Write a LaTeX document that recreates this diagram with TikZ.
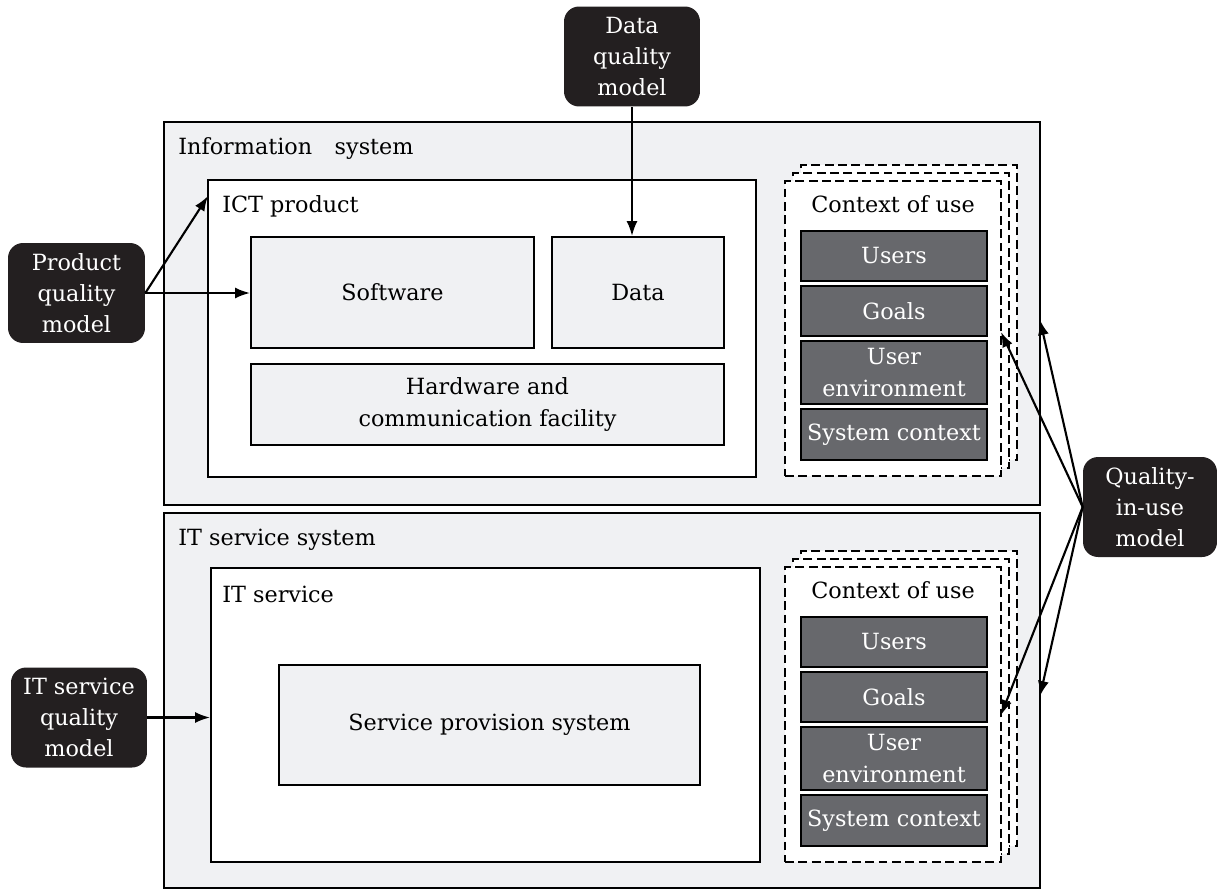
\documentclass[tikz,border=0pt]{standalone}
\usepackage{fontspec}
\setmainfont{DejaVu Serif}
\usetikzlibrary{arrows.meta}
\definecolor{panel}{HTML}{F0F1F3}
\definecolor{darkcell}{HTML}{67686C}
\definecolor{modelbg}{HTML}{231F20}

\begin{document}
\begin{tikzpicture}[x=0.02cm, y=-0.02cm,
  font=\fontsize{12.7}{17.8}\selectfont,
  system/.style = {draw, line width=1.1pt, fill=panel},
  part/.style = {draw, line width=1.1pt, fill=white},
  unit/.style = {draw, line width=1.1pt, fill=panel, align=center},
  ctx/.style = {draw, dash pattern=on 5pt off 2.6pt, line width=1.4pt, fill=white, minimum width=4.32cm, minimum height=5.9cm},
  cell/.style = {draw, line width=0.9pt, fill=darkcell, text=white, minimum width=3.72cm, align=center, inner sep=0pt},
  model/.style = {rounded corners=0.3cm, fill=modelbg, text=white, align=center, minimum width=2.72cm, minimum height=2cm, inner sep=0pt},
  lbl/.style = {anchor=west, inner sep=0pt},
  link/.style = {line width=1.2pt, -{Latex[length=3mm, width=2.2mm]}}]
\useasboundingbox (0,0) rectangle (1217,890);

% information system
\node[system, minimum width=17.52cm, minimum height=7.66cm] (infosys) at (602,313.5) {};
\node[lbl] (infolbl) at (178,148) {Information\hspace{0.45cm}system};
\node[part, minimum width=10.96cm, minimum height=5.94cm] (ictprod) at (482,328.5) {};
\node[lbl] (ictlbl) at (222,206) {ICT product};
\node[unit, minimum width=5.66cm, minimum height=2.22cm] (software) at (392.5,292.5) {Software};
\node[unit, minimum width=3.44cm, minimum height=2.22cm] (data) at (638,292.5) {Data};
\node[unit, minimum width=9.46cm, minimum height=1.62cm] (hardware) at (487.5,404.5) {Hardware and\\communication facility};

% context of use (top)
\node[ctx] (ctxa3) at (909,312.5) {};
\node[ctx] (ctxa2) at (901,320.5) {};
\node[ctx] (ctxa) at (893,328.5) {};
\node (ctxalbl) at (893,204) {Context of use};
\node[cell, minimum height=1cm] (usersa) at (894,256) {Users};
\node[cell, minimum height=1cm] (goalsa) at (894,311) {Goals};
\node[cell, minimum height=1.26cm] (enva) at (894,372.5) {User\\environment};
\node[cell, minimum height=1.02cm] (sysa) at (894,434.5) {System context};

% IT service system
\node[system, minimum width=17.52cm, minimum height=7.5cm] (itsys) at (602,700.5) {};
\node[lbl] (itsyslbl) at (178,540) {IT service system};
\node[part, minimum width=10.98cm, minimum height=5.88cm] (itserv) at (485.5,715) {};
\node[lbl] (itservlbl) at (222,594) {IT service};
\node[unit, minimum width=8.42cm, minimum height=2.4cm] (sps) at (489.5,725) {Service provision system};

% context of use (bottom)
\node[ctx] (ctxb3) at (909,698.5) {};
\node[ctx] (ctxb2) at (901,706.5) {};
\node[ctx] (ctxb) at (893,714.5) {};
\node (ctxblbl) at (893,590) {Context of use};
\node[cell, minimum height=1cm] (usersb) at (894,642) {Users};
\node[cell, minimum height=1cm] (goalsb) at (894,697) {Goals};
\node[cell, minimum height=1.26cm] (envb) at (894,758.5) {User\\environment};
\node[cell, minimum height=1.02cm] (sysb) at (894,820.5) {System context};

% quality models
\node[model] (dqm) at (632,56.5) {Data\\quality\\model};
\node[model, minimum width=2.74cm] (pqm) at (76.5,293) {Product\\quality\\model};
\node[model] (itsqm) at (79,717.5) {IT service\\quality\\model};
\node[model, minimum width=2.68cm] (qiu) at (1150,507) {Quality-\\in-use\\model};

\coordinate (ictin) at (208,196);
\coordinate (infoin) at (1040,320);
\coordinate (ctxain) at (1001,332);
\coordinate (itsysin) at (1040,696);
\coordinate (ctxbin) at (1001,715);

\draw[link] (dqm.south) -- (dqm.south |- data.north);
\draw[link] (pqm.east) -- (ictin);
\draw[link] (pqm.east) -- (pqm.east -| software.west);
\draw[link] (itsqm.east) -- (itsqm.east -| itserv.west);
\draw[link] (qiu.west) -- (infoin);
\draw[link] (qiu.west) -- (ctxain);
\draw[link] (qiu.west) -- (itsysin);
\draw[link] (qiu.west) -- (ctxbin);
\end{tikzpicture}
\end{document}
